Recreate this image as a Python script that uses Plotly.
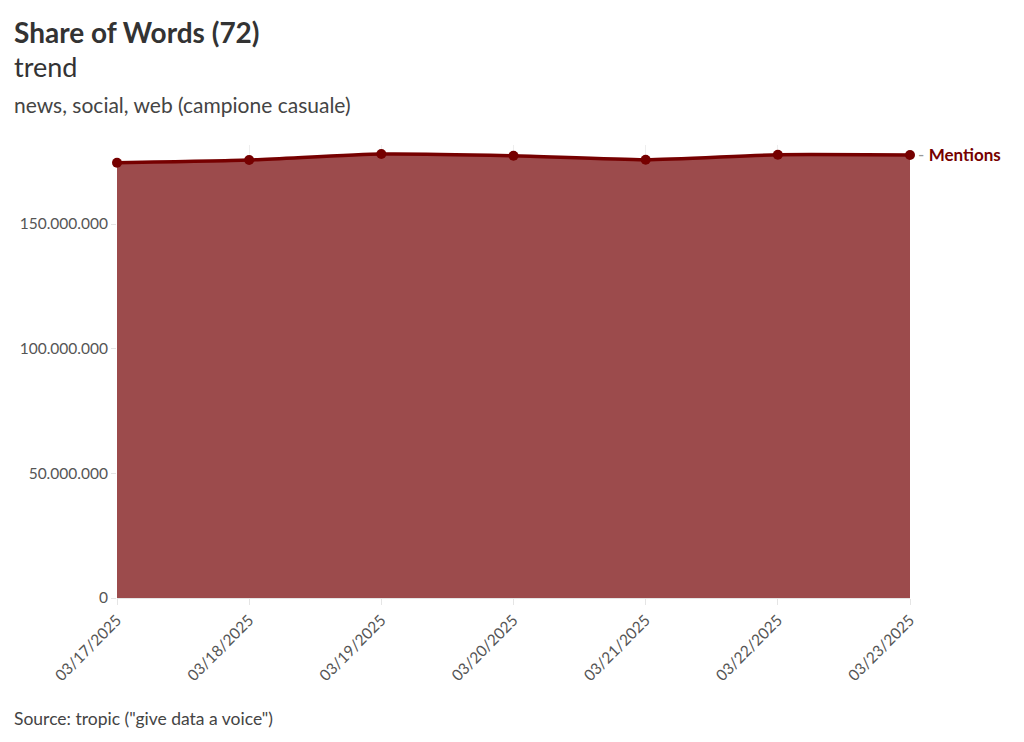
import plotly.graph_objects as go

dates = ["2025-03-17", "2025-03-18", "2025-03-19", "2025-03-20", "2025-03-21", "2025-03-22", "2025-03-23"]
tick_labels = ["03/17/2025", "03/18/2025", "03/19/2025", "03/20/2025", "03/21/2025", "03/22/2025", "03/23/2025"]
mentions = [174.6e6, 175.7e6, 178.1e6, 177.4e6, 175.8e6, 177.8e6, 177.7e6]
y_ticks = [0, 50e6, 100e6, 150e6]
y_tick_labels = ["0", "50.000.000", "100.000.000", "150.000.000"]

FONT = "Lato"
LINE = "#760000"
FILL = "#9c4b4c"

W, H = 1024, 742
ML, MR, MT, MB = 117, 114, 145, 144
plot_w = W - ML - MR
plot_h = H - MT - MB


def px(x):
    return (x - ML) / plot_w


def py(y):
    return (H - MB - y) / plot_h


fig = go.Figure()
fig.add_trace(go.Scatter(
    x=dates, y=mentions, mode="lines+markers", name="Mentions",
    line=dict(color=LINE, width=3.5, shape="spline", smoothing=0.6),
    marker=dict(color=LINE, size=10),
    fill="tozeroy", fillcolor=FILL, showlegend=False,
    cliponaxis=False, hoverinfo="x+y",
))

fig.add_annotation(
    x=dates[-1], y=mentions[-1], xref="x", yref="y",
    text="<span style='color:#999999'>-</span> <b>Mentions</b>",
    showarrow=False, xanchor="left", yanchor="middle", xshift=6,
    font=dict(family=FONT, size=17, color=LINE),
)

texts = [
    ("<b>Share of Words (72)</b>", 32, 28, "#333333"),
    ("trend", 66, 27, "#333333"),
    ("news, social, web (campione casuale)", 104, 21, "#444444"),
    ('Source: tropic ("give data a voice")', 718, 17.5, "#444444"),
]
for t, yy, sz, col in texts:
    fig.add_annotation(
        text=t, xref="paper", yref="paper", x=px(12), y=py(yy),
        showarrow=False, xanchor="left", yanchor="middle",
        font=dict(family=FONT, size=sz, color=col),
    )

fig.update_layout(
    width=W, height=H,
    paper_bgcolor="white", plot_bgcolor="white",
    margin=dict(l=ML, r=MR, t=MT, b=MB),
    font=dict(family=FONT, color="#444444"),
)
fig.update_xaxes(
    tickvals=dates, ticktext=tick_labels, tickangle=-45,
    range=[dates[0], dates[-1]], showgrid=True, gridcolor="#eeeeee",
    ticks="outside", ticklen=6, tickcolor="#e5e5e5",
    tickfont=dict(family=FONT, size=15.5, color="#555555"), showline=False, zeroline=False,
    automargin=False,
)
fig.update_yaxes(
    tickvals=y_ticks, ticktext=y_tick_labels, range=[0, 181.7e6],
    showgrid=True, gridcolor="#eeeeee", ticks="outside", ticklen=5, tickcolor="#e5e5e5",
    tickfont=dict(family=FONT, size=15.5, color="#555555"), zeroline=True, zerolinecolor="#e5e5e5",
    automargin=False,
)

fig.write_html("out.html", config={"displayModeBar": False},
               post_script="document.body.style.margin='0';")
